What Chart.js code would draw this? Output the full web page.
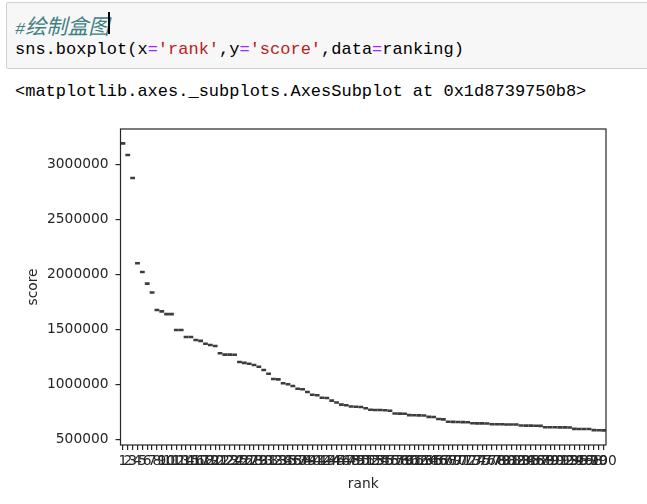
<!DOCTYPE html>
<html>
<head>
<meta charset="utf-8">
<script src="https://cdn.jsdelivr.net/npm/chart.js@4.4.0/dist/chart.umd.min.js"></script>
<style>
  body { margin: 0; background: #fff; width: 647px; height: 504px; overflow: hidden; position: relative; }
  .cell { position: absolute; left: 6px; top: 2px; width: 700px; height: 65px; background: #f7f7f7; border: 1px solid #cfcfcf; border-radius: 2px; }
  .mono { position: absolute; left: 15px; font-family: "Liberation Mono", monospace; font-size: 17px; line-height: 20px; white-space: pre; color: #000; }
  .cm { color: #408080; font-style: italic; }
  .cjk { font-family: "Noto Sans CJK SC", sans-serif; font-size: 21px; }
  .op { color: #aa22ff; }
  .st { color: #ba2121; }
  .cursor { position: absolute; left: 108px; top: 12px; width: 2px; height: 22px; background: #000; }
  #wrap { position: absolute; left: 0; top: 110px; width: 647px; height: 394px; }
</style>
</head>
<body>
<div class="cell"></div>
<div class="mono" style="top:15px"><span class="cm">#<span class="cjk">绘制盒图</span></span></div>
<div class="cursor"></div>
<div class="mono" style="top:40px">sns.boxplot(x<span class="op">=</span><span class="st">'rank'</span>,y<span class="op">=</span><span class="st">'score'</span>,data<span class="op">=</span>ranking)</div>
<div class="mono" style="top:82px">&lt;matplotlib.axes._subplots.AxesSubplot at 0x1d8739750b8&gt;</div>

<div id="wrap"><canvas id="chart" width="647" height="394"></canvas></div>

<script>
// one score per rank
const ranks = Array.from({ length: 100 }, (_, i) => String(i + 1));
const scores = [
  3190000, 3085000, 2875000, 2100000, 2021000, 1915000, 1834000, 1676000, 1663000, 1638000,
  1638000, 1494000, 1494000, 1430000, 1430000, 1403000, 1395000, 1368000, 1357000, 1348000,
  1282000, 1270000, 1270000, 1268000, 1203000, 1195000, 1187000, 1175000, 1160000, 1130000,
  1096000, 1048000, 1045000, 1009000, 1000000, 985000, 960000, 955000, 930000, 905000,
  900000, 878000, 875000, 851000, 835000, 815000, 810000, 798000, 796000, 794000,
  782000, 768000, 766000, 766000, 764000, 760000, 735000, 733000, 732000, 720000,
  718000, 717000, 716000, 704000, 702000, 684000, 681000, 660000, 658000, 657000,
  656000, 655000, 646000, 645000, 645000, 644000, 637000, 636000, 636000, 635000,
  635000, 634000, 625000, 624000, 624000, 623000, 622000, 610000, 609000, 609000,
  608000, 608000, 607000, 595000, 594000, 594000, 593000, 583000, 582000, 581000
];
const yTicks = [500000, 1000000, 1500000, 2000000, 2500000, 3000000];
const yMin = 448000, yMax = 3321000;

const ink = '#262626';
const tickFont = { family: 'DejaVu Sans', size: 13.8 };

// matplotlib draws all four spines
const frame = {
  id: 'frame',
  afterDraw(c) {
    const { ctx, chartArea: a } = c;
    ctx.save();
    ctx.strokeStyle = ink;
    ctx.lineWidth = 1.2;
    ctx.strokeRect(a.left, a.top, a.right - a.left, a.bottom - a.top);
    ctx.restore();
  }
};

new Chart(document.getElementById('chart'), {
  type: 'line',
  data: {
    labels: ranks,
    datasets: [{
      data: scores,
      showLine: false,
      pointStyle: 'line',
      pointRadius: 2.4,
      pointBorderWidth: 2.6,
      pointBorderColor: '#3d3d3d',
      pointBackgroundColor: '#3d3d3d'
    }]
  },
  options: {
    responsive: false,
    animation: false,
    events: [],
    layout: { padding: { top: 19, right: 41, left: 0, bottom: 0 } },
    plugins: { legend: { display: false }, tooltip: { enabled: false } },
    scales: {
      x: {
        type: 'category',
        offset: true,
        grid: { drawOnChartArea: false, offset: false, tickLength: 5, color: ink, lineWidth: 1.2 },
        border: { display: false },
        ticks: { autoSkip: false, maxRotation: 0, minRotation: 0, padding: 3, color: ink, font: tickFont },
        title: { display: true, text: 'rank', color: ink, font: tickFont, padding: { top: 0, bottom: 11 } },
        afterFit(s) { s.height = 59; }
      },
      y: {
        min: yMin,
        max: yMax,
        afterBuildTicks(s) { s.ticks = yTicks.map(v => ({ value: v })); },
        grid: { drawOnChartArea: false, tickLength: 5, color: ink, lineWidth: 1.2 },
        border: { display: false },
        ticks: { padding: 7, color: ink, font: tickFont, callback: v => String(v) },
        title: { display: true, text: 'score', color: ink, font: tickFont, padding: { top: 25, bottom: 0 } },
        afterFit(s) { s.width = 120.5; }
      }
    }
  },
  plugins: [frame]
});
</script>
</body>
</html>
